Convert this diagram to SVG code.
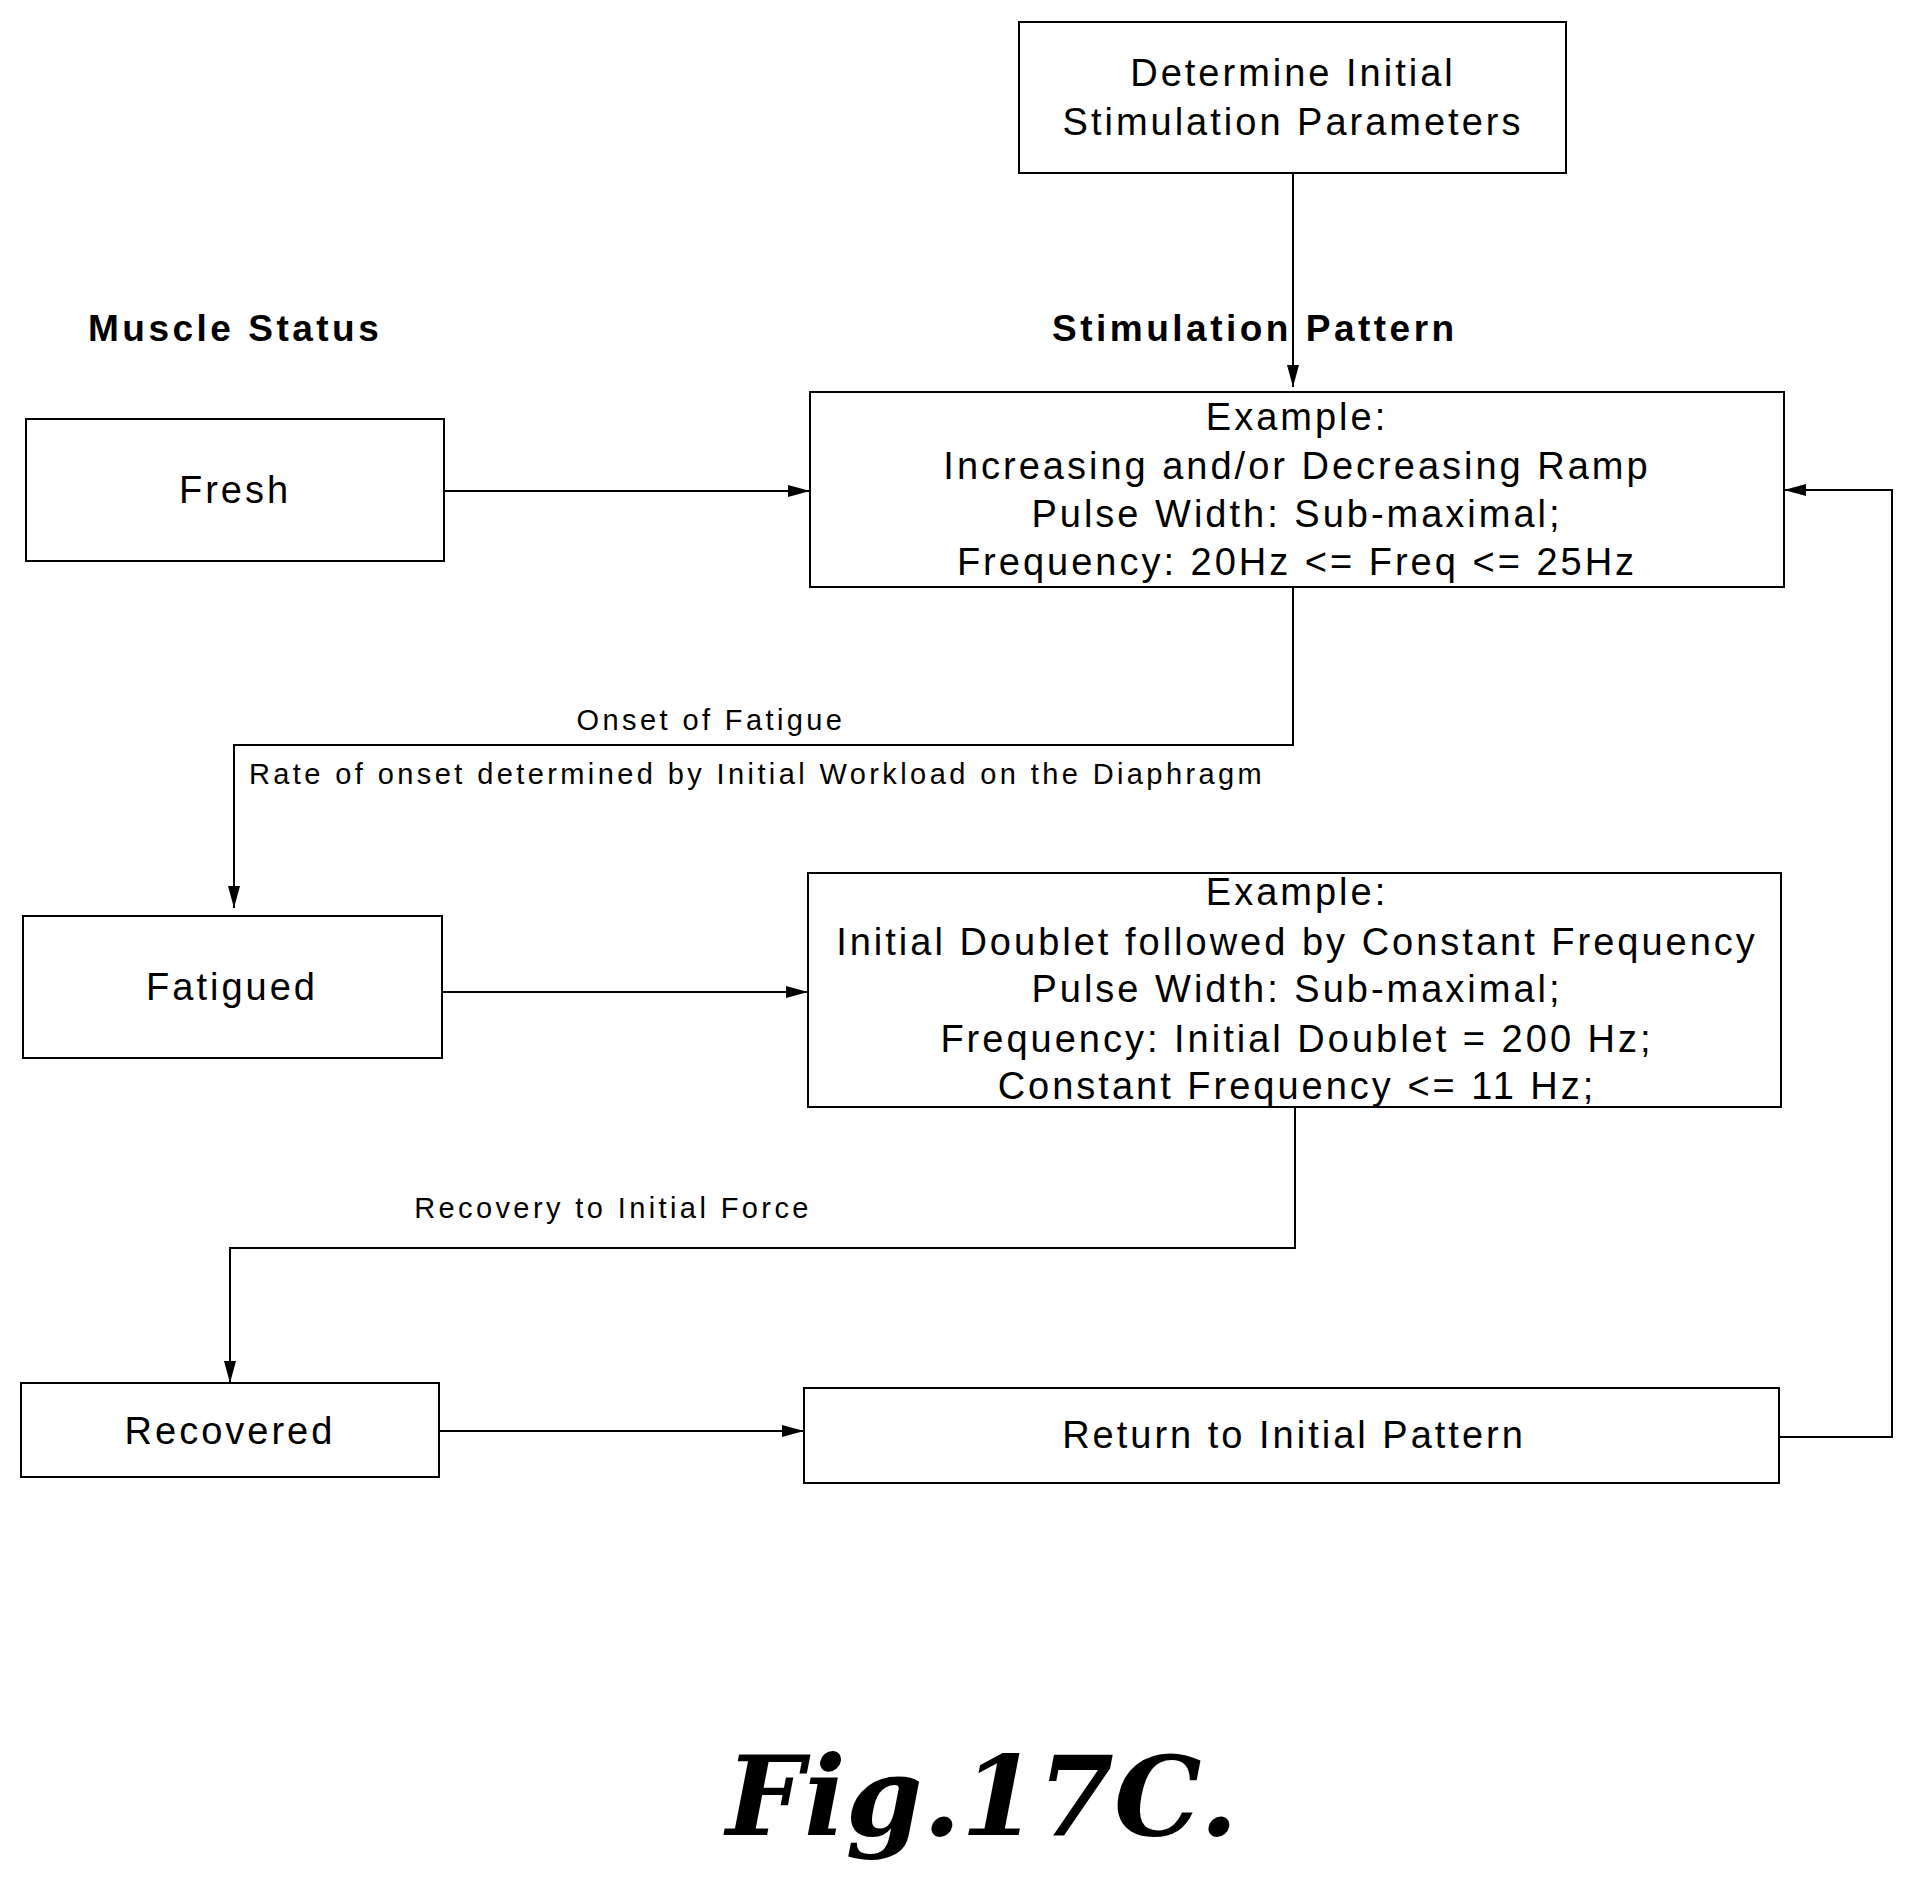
<svg xmlns="http://www.w3.org/2000/svg" width="1915" height="1891" viewBox="0 0 1915 1891">
<defs><marker id="a" markerWidth="22" markerHeight="12" refX="22" refY="6" orient="auto" markerUnits="userSpaceOnUse"><path d="M0,0 L22,6 L0,12 z" fill="#000"/></marker></defs>
<style>
rect{fill:#fff;stroke:#000;stroke-width:2}
text{font-family:"Liberation Sans",Arial,sans-serif;fill:#000;text-anchor:middle}
.t{font-size:38px;letter-spacing:3px}
.h{font-size:37px;font-weight:bold;text-anchor:start;letter-spacing:3.5px}
.l{font-size:29px;letter-spacing:3.4px}
.c path{fill:none;stroke:#000;stroke-width:2;marker-end:url(#a)}
</style>
<rect width="1915" height="1891" style="stroke:none"/>
<g id="init"><rect x="1019" y="22" width="547" height="151"/><text class="t" x="1293" y="86">Determine Initial</text><text class="t" x="1293" y="135">Stimulation Parameters</text></g>
<text class="h" x="88" y="341">Muscle Status</text>
<text class="h" x="1052" y="341">Stimulation Pattern</text>
<g id="fresh"><rect x="26" y="419" width="418" height="142"/><text class="t" x="235" y="503">Fresh</text></g>
<g id="p1"><rect x="810" y="392" width="974" height="195"/>
<text class="t" x="1297" y="430">Example:</text><text class="t" x="1297" y="479">Increasing and/or Decreasing Ramp</text><text class="t" x="1297" y="527">Pulse Width: Sub-maximal;</text><text class="t" x="1297" y="575">Frequency: 20Hz &lt;= Freq &lt;= 25Hz</text></g>
<g id="fatigued"><rect x="23" y="916" width="419" height="142"/><text class="t" x="232" y="1000">Fatigued</text></g>
<g id="p2"><rect x="808" y="873" width="973" height="234"/>
<text class="t" x="1297" y="905">Example:</text><text class="t" x="1297" y="955">Initial Doublet followed by Constant Frequency</text><text class="t" x="1297" y="1002">Pulse Width: Sub-maximal;</text><text class="t" x="1297" y="1052">Frequency: Initial Doublet = 200 Hz;</text><text class="t" x="1297" y="1099">Constant Frequency &lt;= 11 Hz;</text></g>
<g id="recovered"><rect x="21" y="1383" width="418" height="94"/><text class="t" x="230" y="1444">Recovered</text></g>
<g id="ret"><rect x="804" y="1388" width="975" height="95"/><text class="t" x="1294" y="1448">Return to Initial Pattern</text></g>
<g class="c">
<path d="M1293,173 V387"/>
<path d="M444,491 H810"/>
<path d="M1293,587 V745 H234 V908"/>
<path d="M442,992 H808"/>
<path d="M1295,1107 V1248 H230 V1383"/>
<path d="M439,1431 H804"/>
<path d="M1779,1437 H1892 V490 H1784"/>
</g>
<text class="l" x="711" y="730">Onset of Fatigue</text>
<text class="l" x="249" y="784" style="text-anchor:start">Rate of onset determined by Initial Workload on the Diaphragm</text>
<text class="l" x="613" y="1218">Recovery to Initial Force</text>
<text x="982" y="1835" style="font-family:'DejaVu Serif',serif;font-size:110px;font-style:italic;font-weight:bold">Fig.17C.</text>
</svg>
